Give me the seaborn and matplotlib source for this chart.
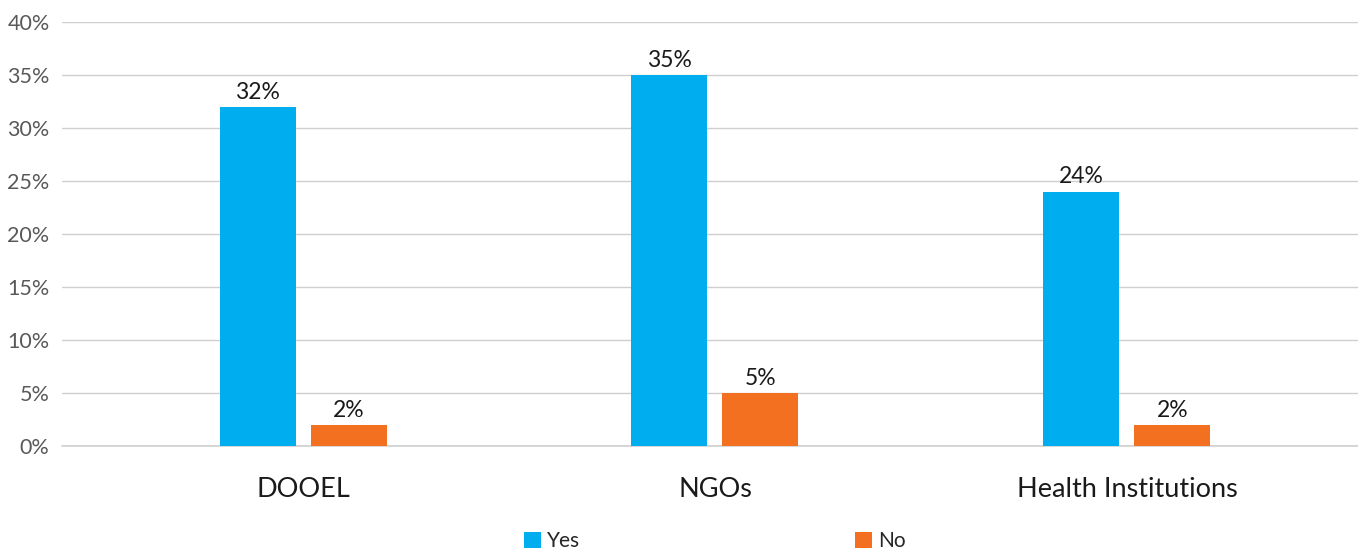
import matplotlib
matplotlib.use("Agg")
import matplotlib.pyplot as plt
import seaborn as sns
import pandas as pd
from matplotlib.ticker import PercentFormatter

categories = ["DOOEL", "NGOs", "Health Institutions"]
series_names = ["Yes", "No"]
yes_values = [0.32, 0.35, 0.24]
no_values = [0.02, 0.05, 0.02]
y_ticks = [0.0, 0.05, 0.10, 0.15, 0.20, 0.25, 0.30, 0.35, 0.40]

colors = {"Yes": "#00AEEF", "No": "#F37021"}

df = pd.DataFrame({
    "category": categories * 2,
    "answer": [series_names[0]] * 3 + [series_names[1]] * 3,
    "value": yes_values + no_values,
})

sns.set_theme(style="white")
plt.rcParams["font.family"] = ["Lato", "DejaVu Sans"]

fig = plt.figure(figsize=(13.58, 5.53), dpi=100)
ax = fig.add_axes([0.0457, 0.1935, 0.9543, 0.7667])

sns.barplot(data=df, x="category", y="value", hue="answer", order=categories,
            hue_order=series_names, palette=colors, width=0.442, gap=0.165,
            saturation=1, errorbar=None, linewidth=0, ax=ax, legend=True)

for container in ax.containers:
    ax.bar_label(container, labels=[f"{v*100:.0f}%" for v in container.datavalues],
                 padding=3, fontsize=16.5, color="#1a1a1a")

ax.set_ylim(0, 0.40)
ax.set_xlim(-0.585, 2.561)
ax.set_yticks(y_ticks)
ax.yaxis.set_major_formatter(PercentFormatter(1.0, decimals=0))
ax.grid(axis="y", color="#cfcfcf", linewidth=1)
ax.axhline(0, color="#cfcfcf", linewidth=1.2, clip_on=False, zorder=0.5)
ax.set_axisbelow(True)
for s in ax.spines.values():
    s.set_visible(False)
ax.tick_params(axis="y", length=0, labelsize=15.5, labelcolor="#595959", pad=9)
ax.tick_params(axis="x", length=0, labelsize=19.5, labelcolor="#1a1a1a", pad=22)
ax.set_xlabel("")
ax.set_ylabel("")

ax.legend(loc="upper center", bbox_to_anchor=(0.504, -0.2), ncol=2, frameon=False,
          fontsize=15, handlelength=0.8, handleheight=0.8, handletextpad=0.3,
          columnspacing=13.2, borderaxespad=0, borderpad=0)

fig.savefig("out.png", dpi=100)
